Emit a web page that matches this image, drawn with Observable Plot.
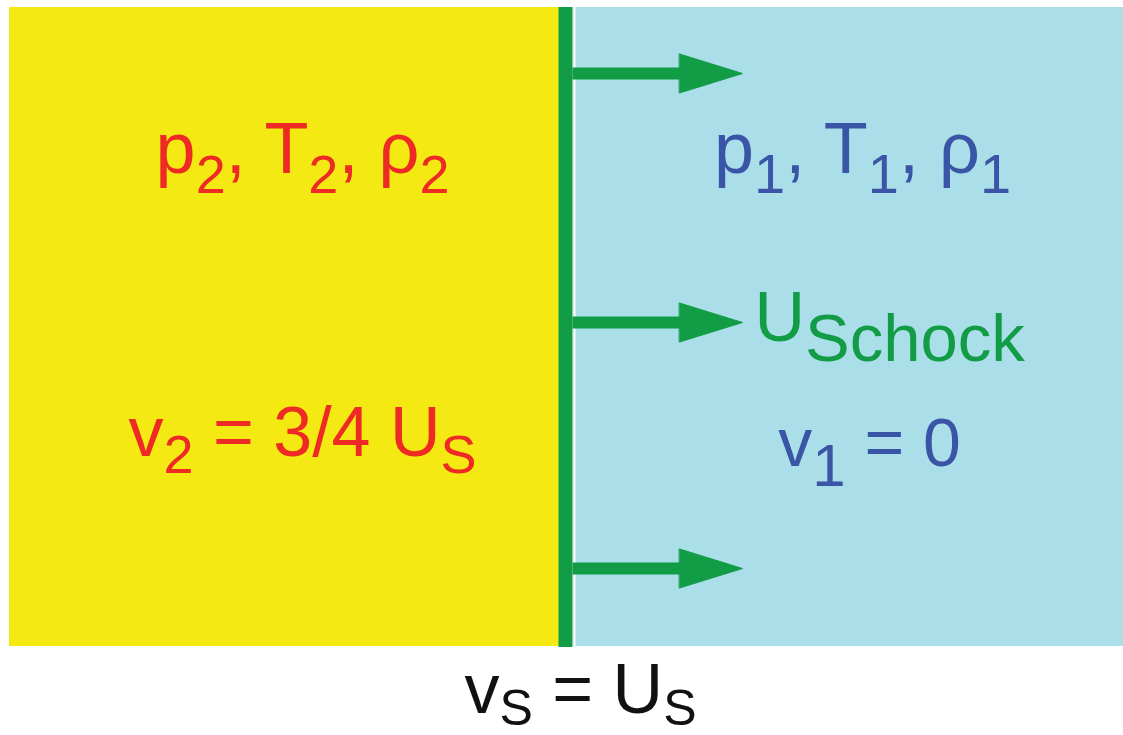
<!DOCTYPE html>
<html>
<head>
<meta charset="utf-8">
<script src="https://cdn.jsdelivr.net/npm/d3@7"></script>
<script src="https://cdn.jsdelivr.net/npm/@observablehq/plot@0.6"></script>
<style>
  html, body { margin: 0; padding: 0; background: #ffffff; }
  #chart svg { display: block; }
</style>
</head>
<body>
<div id="chart"></div>
<script>
// ---- diagram data (pixel-space coordinates of the schematic) ----
const regions = [
  { name: "burnt",   x1: 9,   x2: 560,  y1: 7, y2: 646 },
  { name: "unburnt", x1: 573, x2: 1123, y1: 7, y2: 646 }
];
const regionColors = ["#f4e912", "#aadfe9"];
const shockFront = [{ x: 565, y1: 7, y2: 647 }];
const arrowRows = [73, 322, 568];
const arrowStart = 572;
const arrowHeadBase = 679;
const arrowTip = 742;
const arrowHalfHead = 19.5;

const labels = [
  { text: "p_{2}, T_{2}, ρ_{2}",  x: 302, y: 172, color: "#ee2a24", anchor: "middle", size: 72, sub: 54, shift: 20 },
  { text: "p_{1}, T_{1}, ρ_{1}",  x: 862, y: 172, color: "#3a55a6", anchor: "middle", size: 72, sub: 56, shift: 20 },
  { text: "U_{Schock}",           x: 754, y: 340, color: "#119c45", anchor: "start",  size: 70, sub: 67, shift: 20 },
  { text: "v_{2} = 3/4 U_{S}",    x: 302, y: 455, color: "#ee2a24", anchor: "middle", size: 70, sub: 54, shift: 17 },
  { text: "v_{1} = 0",            x: 869, y: 465, color: "#3a55a6", anchor: "middle", size: 68, sub: 60, shift: 20 },
  { text: "v_{S} = U_{S}",        x: 580, y: 712, color: "#111111", anchor: "middle", size: 70, sub: 50, shift: 12 }
];

// ---- derived tables ----
const heads = arrowRows.flatMap((y, i) => [
  { id: i, x: arrowHeadBase, y: y - arrowHalfHead },
  { id: i, x: arrowTip, y: y },
  { id: i, x: arrowHeadBase, y: y + arrowHalfHead }
]);
const shafts = arrowRows.map(y => ({ x1: arrowStart, x2: arrowHeadBase + 4, y }));

const W = 1123, H = 735;
const green = "#119c45";

const plot = Plot.plot({
  width: W,
  height: H,
  margin: 0,
  x: { domain: [0, W], range: [0, W], axis: null },
  y: { domain: [0, H], range: [0, H], axis: null },
  style: { background: "#ffffff", fontFamily: "'Liberation Sans', Arial, sans-serif" },
  marks: [
    Plot.rect(regions, { x1: "x1", x2: "x2", y1: "y1", y2: "y2", fill: (d, i) => regionColors[i] }),
    Plot.ruleX(shockFront, { x: d => d.x + 9, y1: "y1", y2: "y2", stroke: "#ffffff", strokeWidth: 2 }),
    Plot.ruleX(shockFront, { x: "x", y1: "y1", y2: "y2", stroke: green, strokeWidth: 14 }),
    Plot.link(shafts, { x1: "x1", x2: "x2", y1: "y", y2: "y", stroke: green, strokeWidth: 12 }),
    Plot.line(heads, { x: "x", y: "y", z: "id", fill: green, stroke: green, strokeWidth: 1, curve: "linear-closed" }),
    Plot.text(labels, {
      x: "x", y: "y", text: "text", fill: "color",
      textAnchor: d => d.anchor, lineAnchor: "bottom",
      fontSize: d => d.size
    })
  ]
});

// Rebuild labels with real subscripts (tspans)
const textEls = d3.select(plot).selectAll("g[aria-label='text'] text").nodes();
textEls.forEach((el, i) => {
  const lab = labels[i];
  if (!lab) return;
  const parts = lab.text.split(/(_\{[^}]*\})/).filter(s => s.length);
  el.textContent = "";
  el.setAttribute("font-size", lab.size);
  el.setAttribute("text-anchor", lab.anchor);
  el.removeAttribute("dy");
  const sel = d3.select(el);
  let shifted = false;
  parts.forEach(p => {
    if (p.startsWith("_{")) {
      sel.append("tspan")
        .attr("font-size", lab.sub)
        .attr("dy", shifted ? 0 : lab.shift)
        .text(p.slice(2, -1));
      shifted = true;
    } else {
      sel.append("tspan")
        .attr("dy", shifted ? -lab.shift : 0)
        .text(p);
      shifted = false;
    }
  });
});

document.getElementById("chart").appendChild(plot);
</script>
</body>
</html>
